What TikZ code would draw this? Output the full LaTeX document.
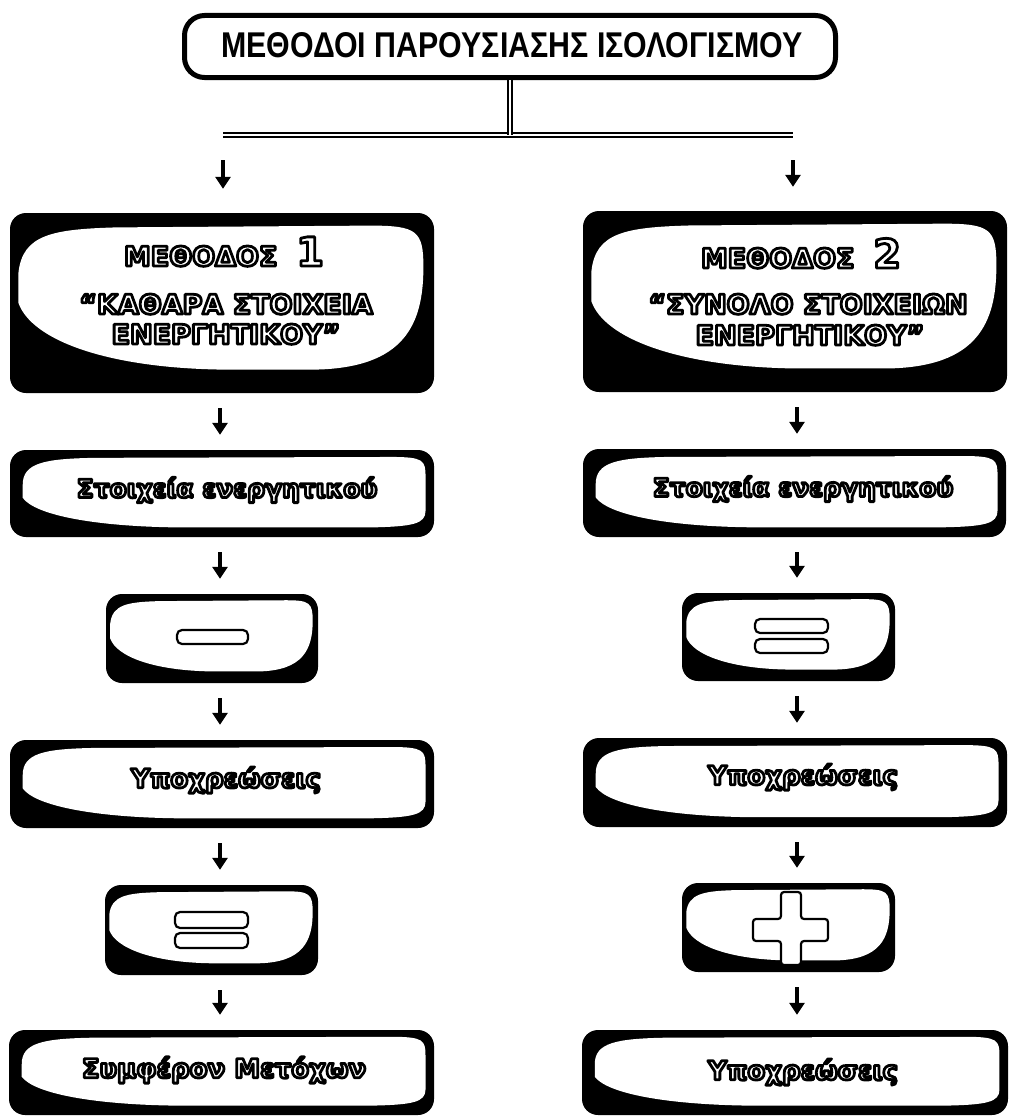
\documentclass[tikz,border=0pt]{standalone}
\usepackage{fontspec}
\setmainfont{DejaVu Sans}
\newfontfamily\titlefont{Liberation Sans}
\usetikzlibrary{arrows.meta,calc}

% white text with a black outline (fill + stroke rendering of the glyphs)
\newcommand\outl[1]{{\color{white}\special{pdf:literal direct 2 Tr 2.8 w 1 j 0 G}#1\special{pdf:literal direct 0 Tr 1 w}}}

% highlight shapes, in unit coordinates of the panel (y downwards)
\newcommand\blobflat{(0.03,0.40) .. controls (0.03,0.15) and (0.08,0.10) .. (0.2,0.09)
      -- (0.9,0.08) .. controls (0.975,0.08) and (0.98,0.12) .. (0.98,0.3)
      -- (0.98,0.7) .. controls (0.98,0.85) and (0.95,0.88) .. (0.85,0.89)
      -- (0.40,0.89) .. controls (0.2,0.88) and (0.06,0.75) .. (0.03,0.55) -- cycle}
\newcommand\blobbig{(0.02,0.33) .. controls (0.03,0.12) and (0.1,0.09) .. (0.25,0.08)
      -- (0.85,0.07) .. controls (0.96,0.07) and (0.975,0.1) .. (0.975,0.3)
      .. controls (0.975,0.62) and (0.93,0.86) .. (0.72,0.87)
      -- (0.5,0.87) .. controls (0.22,0.86) and (0.05,0.7) .. (0.02,0.5) -- cycle}

% black rounded panel with white highlight; named node of the panel size
\newcommand\panel[6]{%
  \pgfmathsetmacro\pw{#5-#3}\pgfmathsetmacro\ph{#6-#4}%
  \fill[black, rounded corners=16pt] (#3,#4) rectangle (#5,#6);
  \begin{scope}[shift={(#3,#4)}, x=\pw pt, y=-\ph pt]
    \fill[white] #1;
    \node[inner sep=0pt, minimum width=\pw pt, minimum height=\ph pt] (#2) at (0.5,0.5) {};
  \end{scope}}

\tikzset{
  txt/.style={inner sep=0pt, font=\bfseries\fontsize{26}{30}\selectfont},
  hd/.style={inner sep=0pt, font=\bfseries\fontsize{27}{30}\selectfont},
  arr/.style={line width=4pt, -{Triangle[width=15pt,length=12pt]}, shorten <=15pt, shorten >=15pt},
  dbl/.style={double, double distance=1.2pt, line width=2.2pt},
  sym/.style={draw=black, fill=white, line width=2.2pt, rounded corners=5pt},
}

\begin{document}
\begin{tikzpicture}[x=1pt, y=-1pt]
\useasboundingbox[fill=white] (0,0) rectangle (1009,1116);

% title
\node[draw=black, fill=white, line width=5pt, rounded corners=20pt,
      minimum width=651pt, minimum height=62pt, inner sep=0pt] (title) at (510,46.5) {};
\node[inner sep=0pt] (title-t) at (512,45.5)
  {\titlefont\bfseries\resizebox{581pt}{25pt}{ΜΕΘΟΔΟΙ ΠΑΡΟΥΣΙΑΣΗΣ ΙΣΟΛΟΓΙΣΜΟΥ}};

\coordinate (hl) at (223,135);
\coordinate (hr) at (793,135);
\coordinate (cL) at (220,0);
\coordinate (cR) at (797,0);

\draw[dbl] (hl) -- (hr);
\draw[dbl] (title.south) -- (title.south |- hl);

% panels
\panel{\blobbig}{m1}{10}{213}{434}{393}
\panel{\blobbig}{m2}{583}{211}{1007}{392}
\panel{\blobflat}{s1}{10}{450}{434}{537}
\panel{\blobflat}{s2}{583}{449}{1006}{537}
\panel{\blobbig}{o1}{106}{594}{318}{683}
\panel{\blobbig}{o2}{682}{593}{895}{681}
\panel{\blobflat}{y1}{10}{740}{434}{828}
\panel{\blobflat}{y2}{583}{738}{1007}{827}
\panel{\blobbig}{p1}{105}{885}{318}{975}
\panel{\blobbig}{p2}{682}{883}{895}{972}
\panel{\blobflat}{b1}{9}{1030}{434}{1115}
\panel{\blobflat}{b2}{582}{1030}{1008}{1115}

% texts
\node[hd, anchor=base] (m1a) at (224,266) {\outl{ΜΕΘΟΔΟΣ\ \ {\fontsize{40}{40}\selectfont 1}}};
\node[hd, anchor=base] (m1b) at (226,314) {\outl{“ΚΑΘΑΡΑ ΣΤΟΙΧΕΙΑ}};
\node[hd, anchor=base] (m1c) at (226,344) {\outl{ΕΝΕΡΓΗΤΙΚΟΥ”}};
\node[hd, anchor=base] (m2a) at (801,268) {\outl{ΜΕΘΟΔΟΣ\ \ {\fontsize{40}{40}\selectfont 2}}};
\node[hd, anchor=base] (m2b) at (808,314) {\outl{“ΣΥΝΟΛΟ ΣΤΟΙΧΕΙΩΝ}};
\node[hd, anchor=base] (m2c) at (810,345) {\outl{ΕΝΕΡΓΗΤΙΚΟΥ”}};

\node[txt, font=\bfseries\fontsize{25}{30}\selectfont] (s1t) at (227,490) {\outl{Στοιχεία ενεργητικού}};
\node[txt, font=\bfseries\fontsize{25}{30}\selectfont] (s2t) at (803,489) {\outl{Στοιχεία ενεργητικού}};
\node[txt] (y1t) at (226,780) {\outl{Υποχρεώσεις}};
\node[txt] (y2t) at (803,777) {\outl{Υποχρεώσεις}};
\node[txt] (b1t) at (224,1070) {\outl{Συμφέρον Μετόχων}};
\node[txt] (b2t) at (803,1072) {\outl{Υποχρεώσεις}};

% operator symbols
\draw[sym] (177,630) rectangle (248,644);
\draw[sym] (755,619) rectangle (828,633);
\draw[sym] (755,639) rectangle (828,653);
\draw[sym] (175,912) rectangle (248,928);
\draw[sym] (175,933) rectangle (248,948);
\draw[sym, rounded corners=3pt] (781,892) -- (801,892) -- (801,919) -- (828,919) -- (828,941)
  -- (801,941) -- (801,965) -- (781,965) -- (781,941) -- (753,941) -- (753,919) -- (781,919) -- cycle;

% arrows
\draw[arr, shorten <=25pt, shorten >=24pt] (hl) -- (m1.north -| hl);
\draw[arr, shorten <=25pt, shorten >=24pt] (hr) -- (m2.north -| hr);
\draw[arr] (m1.south -| cL) -- (s1.north -| cL);
\draw[arr] (s1.south -| cL) -- (o1.north -| cL);
\draw[arr] (o1.south -| cL) -- (y1.north -| cL);
\draw[arr] (y1.south -| cL) -- (p1.north -| cL);
\draw[arr] (p1.south -| cL) -- (b1.north -| cL);
\draw[arr] (m2.south -| cR) -- (s2.north -| cR);
\draw[arr] (s2.south -| cR) -- (o2.north -| cR);
\draw[arr] (o2.south -| cR) -- (y2.north -| cR);
\draw[arr] (y2.south -| cR) -- (p2.north -| cR);
\draw[arr] (p2.south -| cR) -- (b2.north -| cR);
\end{tikzpicture}
\end{document}
